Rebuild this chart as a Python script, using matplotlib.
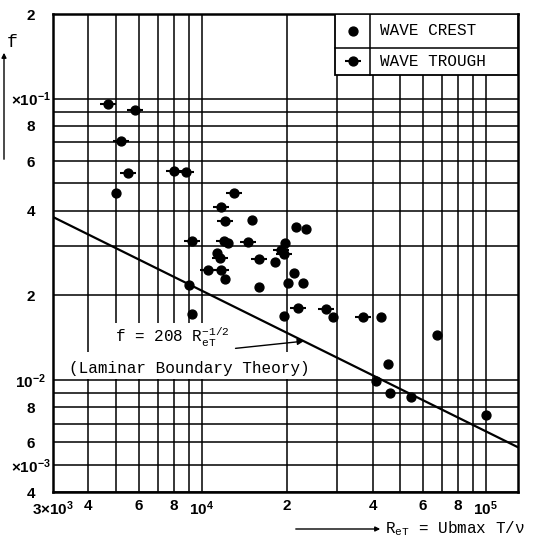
import numpy as np
import matplotlib
matplotlib.use('Agg')
import matplotlib.pyplot as plt
from matplotlib.ticker import LogLocator, FixedLocator, NullFormatter
from matplotlib.patches import Rectangle, FancyArrowPatch

# ---------------- data ----------------
crest_re = [5010, 15090, 12400, 11360, 18070, 12080, 15940, 9020, 9260,
            21430, 23240, 19600, 21130, 20130, 22810, 19490, 28930, 42680,
            67590, 45290, 41220, 46030, 54440, 100200]
crest_f = [0.0461, 0.0372, 0.0307, 0.0282, 0.0262, 0.0229, 0.0215, 0.0217, 0.01716,
           0.0350, 0.0345, 0.0308, 0.0240, 0.0221, 0.0221, 0.01684, 0.01677, 0.01674,
           0.01449, 0.01143, 0.00991, 0.00903, 0.00869, 0.00752]

trough_re = [4690, 5810, 5215, 5510, 7970, 8820, 12990, 11730, 12050, 9275,
             11950, 14560, 11570, 15910, 10500, 11665, 19050, 19440, 21830,
             27490, 37040]
trough_f = [0.0957, 0.0911, 0.0709, 0.0546, 0.0553, 0.0548, 0.0462, 0.0412, 0.0368,
            0.0312, 0.0311, 0.0309, 0.0272, 0.0270, 0.0246, 0.0246, 0.0290, 0.0280,
            0.01808, 0.01794, 0.01674]

theory_coef = 2.08
theory_exp = -0.5
theory_re = [3e3, 1.3e5]

x_ticks = [3e3, 4e3, 6e3, 8e3, 1e4, 2e4, 4e4, 6e4, 8e4, 1e5]
x_labels = [r'$\mathregular{3{\times}10^3}$', '4', '6', '8', r'$\mathregular{10^4}$',
            '2', '4', '6', '8', r'$\mathregular{10^5}$']
y_ticks = [2e-1, 1e-1, 8e-2, 6e-2, 4e-2, 2e-2, 1e-2, 8e-3, 6e-3, 5e-3, 4e-3]
y_labels = ['2', r'$\mathregular{\times10^{-1}}$', '8', '6', '4', '2',
            r'$\mathregular{10^{-2}}$', '8', '6', r'$\mathregular{\times10^{-3}}$', '4']

legend_labels = ['WAVE CREST', 'WAVE TROUGH']

# ---------------- figure ----------------
W, H = 537, 546
fig = plt.figure(figsize=(W / 100, H / 100), dpi=100)
L, R, T, B = 53, 518, 14, 492
ax = fig.add_axes([L / W, 1 - B / H, (R - L) / W, (B - T) / H])
ax.set_xscale('log')
ax.set_yscale('log')
ax.set_xlim(3e3, 1.3e5)
ax.set_ylim(4e-3, 0.2)

mono = ['Liberation Mono', 'DejaVu Sans Mono']
sans = ['Liberation Sans', 'DejaVu Sans']

ax.xaxis.set_major_locator(FixedLocator(x_ticks))
ax.set_xticklabels(x_labels, fontfamily=sans, fontweight='bold', fontsize=11)
ax.yaxis.set_major_locator(FixedLocator(y_ticks))
ax.set_yticklabels(y_labels, fontfamily=sans, fontweight='bold', fontsize=11)
for lab in ax.get_yticklabels():
    lab.set_horizontalalignment('center')
ax.xaxis.set_minor_locator(LogLocator(base=10, subs=np.arange(2, 10)))
ax.yaxis.set_minor_locator(LogLocator(base=10, subs=np.arange(2, 10)))
ax.xaxis.set_minor_formatter(NullFormatter())
ax.yaxis.set_minor_formatter(NullFormatter())
ax.tick_params(which='both', length=0)
ax.tick_params(axis='y', pad=16)
ax.tick_params(axis='x', pad=5)
ax.grid(which='both', color='black', linewidth=1.1)
for s in ax.spines.values():
    s.set_linewidth(1.8)

# white boxes behind annotation text (cover grid)
ax.add_patch(Rectangle((0.101, 0.293), 0.30, 0.0606, transform=ax.transAxes,
                       facecolor='white', edgecolor='none', zorder=2))
ax.add_patch(Rectangle((0.0, 0.2364), 0.542, 0.0566, transform=ax.transAxes,
                       facecolor='white', edgecolor='none', zorder=2))

# theory line
tre = np.array(theory_re)
ax.plot(tre, theory_coef * tre ** theory_exp, color='black', lw=1.6, zorder=3)

# data
ms = 6.4
ax.plot(crest_re, crest_f, 'o', color='black', ms=ms, zorder=4, clip_on=False)
ax.plot(trough_re, trough_f, 'o', color='black', ms=ms, zorder=4)
ax.plot(trough_re, trough_f, '_', color='black', ms=11.5, mew=1.5, zorder=4)

# annotation
ax.text(4977, 0.01417, r'f = 208 R$_{\mathregular{eT}}^{\mathregular{-1/2}}$',
        fontfamily=mono, fontsize=11.5, va='center', ha='left', zorder=5)
ax.text(3402, 0.0110, '(Laminar Boundary Theory)', fontfamily=mono,
        fontsize=11.5, va='center', ha='left', zorder=5)
x_arrow = 2.29e4
ax.annotate('', xy=(x_arrow, theory_coef * x_arrow ** theory_exp),
            xytext=(13170, 0.01296),
            arrowprops=dict(arrowstyle='-|>', color='black', lw=1.0,
                            mutation_scale=9, shrinkA=0, shrinkB=0), zorder=5)

# legend table
lx0, lx1, ly0, ly1 = 0.6065, 1.0, 0.8724, 1.0
ysplit, xsplit = 0.9289, 0.6817
ax.add_patch(Rectangle((lx0, ly0), lx1 - lx0, ly1 - ly0, transform=ax.transAxes,
                       facecolor='white', edgecolor='black', lw=1.3, zorder=6))
ax.plot([lx0, lx1], [ysplit, ysplit], color='black', lw=1.1,
        transform=ax.transAxes, zorder=7)
ax.plot([xsplit, xsplit], [ly0, ly1], color='black', lw=1.1,
        transform=ax.transAxes, zorder=7)
mx = (lx0 + xsplit) / 2
r1 = (ysplit + ly1) / 2
r2 = (ly0 + ysplit) / 2
ax.plot([mx], [r1], 'o', color='black', ms=ms, transform=ax.transAxes, zorder=8)
ax.plot([mx], [r2], 'o', color='black', ms=ms, transform=ax.transAxes, zorder=8)
ax.plot([mx], [r2], '_', color='black', ms=11.5, mew=1.5, transform=ax.transAxes, zorder=8)
ax.text(0.7032, r1, legend_labels[0], transform=ax.transAxes, fontfamily=mono,
        fontsize=11.5, va='center', ha='left', zorder=8)
ax.text(0.7032, r2, legend_labels[1], transform=ax.transAxes, fontfamily=mono,
        fontsize=11.5, va='center', ha='left', zorder=8)

# axis labels
fig.text(12 / W, 1 - 43 / H, 'f', fontfamily=mono, fontsize=13, ha='center', va='center')
fig.add_artist(FancyArrowPatch(
    (4 / W, 1 - 162 / H), (4 / W, 1 - 50 / H), transform=fig.transFigure,
    arrowstyle='-|>', mutation_scale=7, color='black', lw=1.0))
fig.add_artist(FancyArrowPatch(
    (293 / W, 1 - 529 / H), (383 / W, 1 - 529 / H), transform=fig.transFigure,
    arrowstyle='-|>', mutation_scale=7, color='black', lw=1.0))
fig.text(385 / W, 1 - 529 / H, r'R$_{\mathregular{eT}}$ = Ubmax T/ν',
         fontfamily=mono + ['DejaVu Sans'], fontsize=11.5, ha='left', va='center')

fig.savefig('out.png', dpi=100)
